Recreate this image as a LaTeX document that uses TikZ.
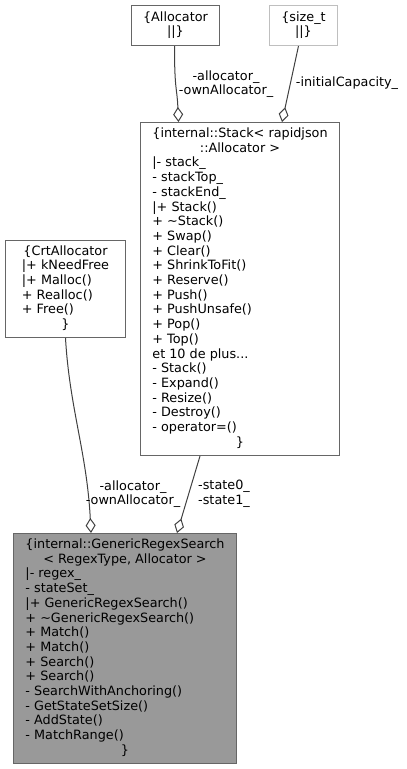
\documentclass[tikz,border=0pt]{standalone}
\usepackage{fontspec}
\setmainfont{DejaVu Sans}
\usetikzlibrary{arrows.meta,calc}
\definecolor{edgecol}{HTML}{404040}
\definecolor{boxcol}{HTML}{666666}
\definecolor{lightbox}{HTML}{BFBFBF}
\definecolor{genfill}{HTML}{999999}
\newcommand{\cls}[1]{{\fontsize{12.8}{14.7}\selectfont\begin{tabular}{@{}l@{}}#1\end{tabular}}}
\newcommand{\ctr}[1]{\multicolumn{1}{@{}c@{}}{#1}}
\tikzset{
  umlbox/.style={draw=boxcol, line width=1pt, fill=white, anchor=north west, inner sep=0pt, rectangle},
  lightumlbox/.style={umlbox, draw=lightbox},
  genbox/.style={umlbox, fill=genfill},
  edge/.style={draw=edgecol, line width=1pt, -{Diamond[open, length=15pt, width=10pt, line width=1pt]}},
  lbl/.style={align=center, inner sep=0pt, font=\fontsize{12.8}{14.7}\selectfont}
}
\begin{document}
\begin{tikzpicture}[x=1pt,y=-1pt]
\useasboundingbox (0,0) rectangle (407,769);

\node[umlbox, minimum width=88pt, minimum height=40pt] (alloc) at (131,5)
  {\cls{\ctr{\{Allocator}\\ \ctr{||\}}}};
\node[lightumlbox, minimum width=68pt, minimum height=40pt] (sizet) at (269,5)
  {\cls{\ctr{\{size\_t}\\ \ctr{||\}}}};
\node[umlbox, minimum width=199pt, minimum height=333pt] (stack) at (140,122)
  {\cls{\ctr{\{internal::Stack< rapidjson}\\
   \ctr{::Allocator >}\\
   |- stack\_\\
   - stackTop\_\\
   - stackEnd\_\\
   |+ Stack()\\
   + \textasciitilde Stack()\\
   + Swap()\\
   + Clear()\\
   + ShrinkToFit()\\
   + Reserve()\\
   + Push()\\
   + PushUnsafe()\\
   + Pop()\\
   + Top()\\
   et 10 de plus...\\
   - Stack()\\
   - Expand()\\
   - Resize()\\
   - Destroy()\\
   - operator=()\\
   \ctr{\}}}};
\node[umlbox, minimum width=120pt, minimum height=97pt] (crt) at (5,240)
  {\cls{\ctr{\{CrtAllocator}\\
   |+ kNeedFree\\
   |+ Malloc()\\
   + Realloc()\\
   + Free()\\
   \ctr{\}}}};
\node[genbox, minimum width=223pt, minimum height=230pt] (gen) at (13,533)
  {\cls{\ctr{\{internal::GenericRegexSearch}\\
   \ctr{< RegexType, Allocator >}\\
   |- regex\_\\
   - stateSet\_\\
   |+ GenericRegexSearch()\\
   + \textasciitilde GenericRegexSearch()\\
   + Match()\\
   + Match()\\
   + Search()\\
   + Search()\\
   - SearchWithAnchoring()\\
   - GetStateSetSize()\\
   - AddState()\\
   - MatchRange()\\
   \ctr{\}}}};

\draw[edge] ($(alloc.south)+(-1,0)$) .. controls ($(alloc.south)+(-1,45)$) and ($(stack.north west)+(37,-35)$) .. ($(stack.north west)+(38.5,0)$);
\draw[edge] ($(sizet.south)+(-5,0)$) -- ($(stack.north west)+(142,0)$);
\draw[edge] (crt.south) .. controls ($(crt.south)+(4,70)$) and ($(gen.north west)+(74,-80)$) .. ($(gen.north west)+(78,0)$);
\draw[edge] ($(stack.south west)+(60,0)$) -- ($(gen.north west)+(164,0)$);

\node[lbl] (l1) at (226,84) {-allocator\_\\-ownAllocator\_};
\node[lbl] (l2) at (347,83) {-initialCapacity\_};
\node[lbl] (l3) at (133,494) {-allocator\_\\-ownAllocator\_};
\node[lbl] (l4) at (224,494) {-state0\_\\-state1\_};
\end{tikzpicture}
\end{document}
